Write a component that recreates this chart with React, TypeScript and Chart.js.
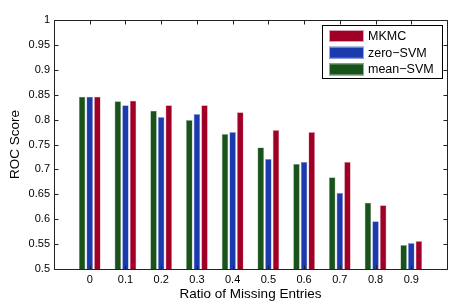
import React, { useEffect, useRef } from 'react';
import { Chart, registerables } from 'chart.js';

Chart.register(...registerables);

const categories = ['0', '0.1', '0.2', '0.3', '0.4', '0.5', '0.6', '0.7', '0.8', '0.9'];
const meanSVM = [0.846, 0.837, 0.818, 0.799, 0.771, 0.744, 0.711, 0.684, 0.633, 0.548];
const zeroSVM = [0.846, 0.829, 0.805, 0.811, 0.775, 0.721, 0.715, 0.653, 0.596, 0.552];
const mkmc = [0.846, 0.838, 0.829, 0.829, 0.815, 0.779, 0.775, 0.715, 0.628, 0.556];
const seriesNames = ['mean−SVM', 'zero−SVM', 'MKMC'];
const seriesColors = ['#1a521c', '#1b3aae', '#a00026'];
const seriesEdges = ['#8fb08f', '#9aa8e0', '#e0a0b0'];
const yMin = 0.5;
const yMax = 1;
const yStep = 0.05;

const FONT = '"Liberation Sans", Arial, sans-serif';

const framePlugin = {
  id: 'frame',
  afterDatasetsDraw(chart: any) {
    const { ctx, chartArea: a, scales } = chart;
    ctx.save();
    ctx.strokeStyle = '#222';
    ctx.lineWidth = 1;
    const L = Math.round(a.left) + 0.5;
    const R = Math.round(a.right) + 0.5;
    const T = Math.round(a.top) + 0.5;
    const B = Math.round(a.bottom) + 0.5;
    ctx.beginPath();
    ctx.rect(L, T, R - L, B - T);
    ctx.stroke();
    const tl = 4;
    ctx.beginPath();
    const xs = scales.x;
    for (let i = 0; i < xs.ticks.length; i++) {
      const px = Math.round(xs.getPixelForTick(i)) + 0.5;
      ctx.moveTo(px, T);
      ctx.lineTo(px, T + tl);
      ctx.moveTo(px, B);
      ctx.lineTo(px, B - tl);
    }
    const ys = scales.y;
    for (const t of ys.ticks) {
      const py = Math.round(ys.getPixelForValue(t.value)) + 0.5;
      ctx.moveTo(L, py);
      ctx.lineTo(L + tl, py);
      ctx.moveTo(R, py);
      ctx.lineTo(R - tl, py);
    }
    ctx.stroke();
    ctx.restore();
  },
};

const legendPlugin = {
  id: 'boxLegend',
  afterDraw(chart: any) {
    const { ctx } = chart;
    const ds = chart.data.datasets;
    const x0 = 322.5;
    const y0 = 25.5;
    const w = 120;
    const h = 53;
    ctx.save();
    ctx.fillStyle = '#fff';
    ctx.fillRect(x0, y0, w, h);
    ctx.strokeStyle = '#000';
    ctx.lineWidth = 1;
    ctx.strokeRect(x0, y0, w, h);
    ctx.font = `12.5px ${FONT}`;
    ctx.textBaseline = 'middle';
    ctx.textAlign = 'left';
    const order = [2, 1, 0];
    order.forEach((di, row) => {
      const cy = 36 + row * 16.7;
      ctx.fillStyle = ds[di].backgroundColor;
      ctx.fillRect(329, cy - 6, 35, 12);
      ctx.strokeStyle = ds[di].borderColor;
      ctx.strokeRect(329.5, cy - 5.5, 34, 11);
      ctx.fillStyle = '#000';
      ctx.fillText(ds[di].label, 368, cy + 0.5);
    });
    ctx.restore();
  },
};

export default function App() {
  const ref = useRef<HTMLCanvasElement | null>(null);
  useEffect(() => {
    document.body.style.margin = '0';
    const labels = ['', ...categories, ''];
    const pad = (arr: number[]) => [null, ...arr, null];
    const chart = new Chart(ref.current as HTMLCanvasElement, {
      type: 'bar',
      data: {
        labels,
        datasets: [meanSVM, zeroSVM, mkmc].map((vals, i) => ({
          label: seriesNames[i],
          data: pad(vals),
          backgroundColor: seriesColors[i],
          borderColor: seriesEdges[i],
          borderWidth: 0.6,
          categoryPercentage: 0.64,
          barPercentage: 0.86,
        })),
      },
      options: {
        responsive: false,
        animation: false,
        events: [],
        layout: { padding: { top: 20, right: 14, left: 0, bottom: 0 } },
        plugins: { legend: { display: false }, tooltip: { enabled: false } },
        scales: {
          x: {
            offset: false,
            grid: { display: false, drawTicks: false },
            border: { display: false },
            ticks: { color: '#000', font: { family: FONT, size: 11 }, padding: 4, maxRotation: 0, autoSkip: false },
            title: {
              display: true,
              text: 'Ratio of Missing Entries',
              color: '#000',
              font: { family: FONT, size: 13.5 },
              padding: { top: 0, bottom: 4 },
            },
            afterFit: (s: any) => {
              s.height = 37;
            },
          },
          y: {
            min: yMin,
            max: yMax,
            grid: { display: false, drawTicks: false },
            border: { display: false },
            ticks: {
              stepSize: yStep,
              color: '#000',
              font: { family: FONT, size: 11 },
              padding: 4,
              callback: (v: any) => String(Number(Number(v).toFixed(2))),
            },
            title: {
              display: true,
              text: 'ROC Score',
              color: '#000',
              font: { family: FONT, size: 13.5 },
              padding: { top: 7, bottom: 0 },
            },
            afterFit: (s: any) => {
              s.width = 54;
            },
          },
        },
      },
      plugins: [framePlugin, legendPlugin],
    } as any);
    return () => chart.destroy();
  }, []);
  return (
    <div style={{ position: 'absolute', left: 0, top: 0, width: 461, height: 306, background: '#fff' }}>
      <canvas ref={ref} width={461} height={306} style={{ display: 'block' }} />
    </div>
  );
}
